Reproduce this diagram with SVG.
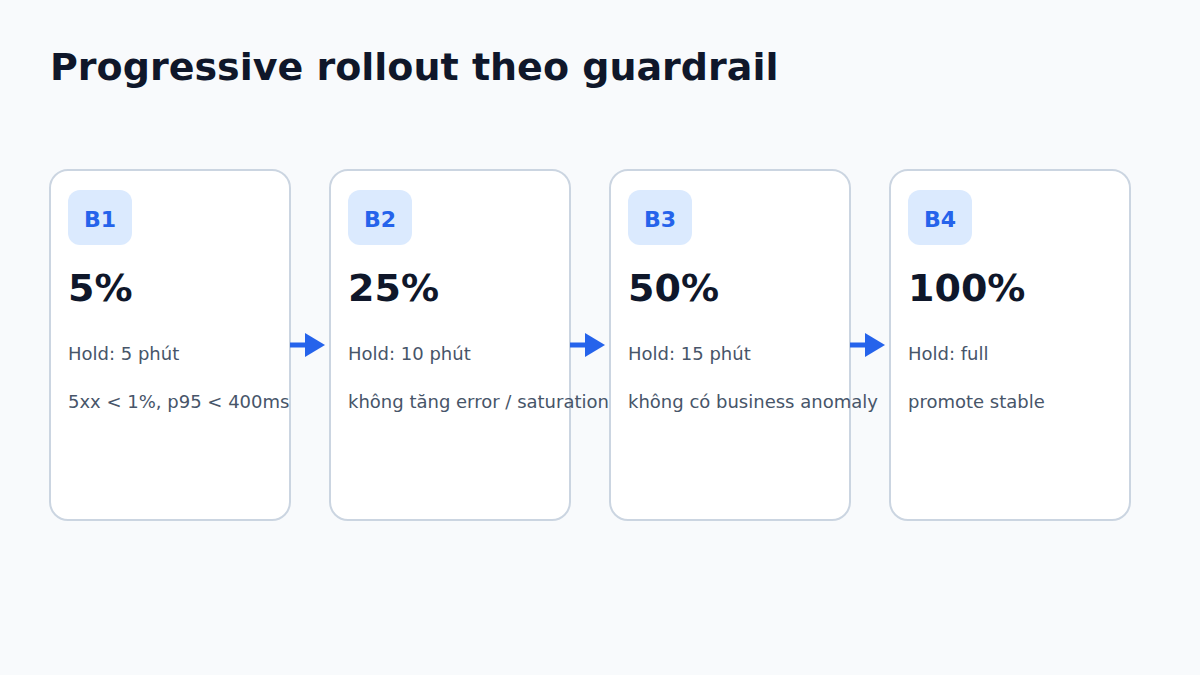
<svg xmlns="http://www.w3.org/2000/svg" width="1200" height="675" viewBox="0 0 1200 675">
<style>
text{font-family:"DejaVu Sans","Verdana",sans-serif}
.card{fill:#ffffff;stroke:#cbd5e1;stroke-width:2}
.badge{fill:#dbeafe}
.bt{font-size:22px;font-weight:bold;fill:#2563eb;text-anchor:middle}
.pct{font-size:38px;font-weight:bold;fill:#0f172a}
.sub{font-size:18px;fill:#475569}
.title{font-size:38px;font-weight:bold;fill:#0f172a}
.conn line{stroke:#2563eb;stroke-width:5}
.conn polygon{fill:#2563eb}
</style>
<rect width="1200" height="675" fill="#f8fafc"/>
<text class="title" x="50" y="80">Progressive rollout theo guardrail</text>
<g id="node-b1">
<rect class="card" x="50" y="170" width="240" height="350" rx="18"/>
<rect class="badge" x="68" y="190" width="64" height="55" rx="12"/>
<text class="bt" x="100" y="227">B1</text>
<text class="pct" x="68" y="301">5%</text>
<text class="sub" x="68" y="360">Hold: 5 phút</text>
<text class="sub" x="68" y="408">5xx &lt; 1%, p95 &lt; 400ms</text>
</g>
<g id="node-b2">
<rect class="card" x="330" y="170" width="240" height="350" rx="18"/>
<rect class="badge" x="348" y="190" width="64" height="55" rx="12"/>
<text class="bt" x="380" y="227">B2</text>
<text class="pct" x="348" y="301">25%</text>
<text class="sub" x="348" y="360">Hold: 10 phút</text>
<text class="sub" x="348" y="408">không tăng error / saturation</text>
</g>
<g id="node-b3">
<rect class="card" x="610" y="170" width="240" height="350" rx="18"/>
<rect class="badge" x="628" y="190" width="64" height="55" rx="12"/>
<text class="bt" x="660" y="227">B3</text>
<text class="pct" x="628" y="301">50%</text>
<text class="sub" x="628" y="360">Hold: 15 phút</text>
<text class="sub" x="628" y="408">không có business anomaly</text>
</g>
<g id="node-b4">
<rect class="card" x="890" y="170" width="240" height="350" rx="18"/>
<rect class="badge" x="908" y="190" width="64" height="55" rx="12"/>
<text class="bt" x="940" y="227">B4</text>
<text class="pct" x="908" y="301">100%</text>
<text class="sub" x="908" y="360">Hold: full</text>
<text class="sub" x="908" y="408">promote stable</text>
</g>
<g id="connectors" class="conn">
<line x1="290" y1="345" x2="310" y2="345"/>
<polygon points="305,333 325,345 305,357"/>
<line x1="570" y1="345" x2="590" y2="345"/>
<polygon points="585,333 605,345 585,357"/>
<line x1="850" y1="345" x2="870" y2="345"/>
<polygon points="865,333 885,345 865,357"/>
</g>
</svg>
